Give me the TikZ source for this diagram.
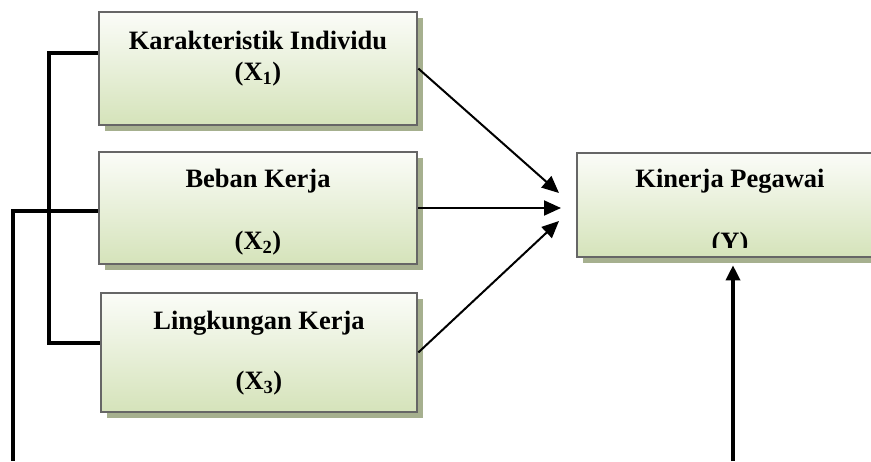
\documentclass[tikz,border=0pt]{standalone}
\usepackage{fontspec}
\setmainfont{Liberation Serif}
\usetikzlibrary{arrows.meta,shadows,calc}

\definecolor{hijau}{HTML}{D5E3BA}
\definecolor{bayang}{HTML}{A6B08F}
\definecolor{garis}{HTML}{666666}

\begin{document}
\begin{tikzpicture}[x=1pt,y=-1pt,
	kotak/.style={draw=garis, line width=2.6pt, top color=white!90!hijau, bottom color=hijau,
		drop shadow={shadow xshift=5.5pt, shadow yshift=-6pt, fill=bayang, opacity=1}},
	judul/.style={font=\fontsize{26.5}{30}\selectfont\bfseries, inner sep=0pt},
	hubung/.style={line width=3.4pt},
	panah/.style={line width=2pt, -{Triangle[length=17pt,width=15pt]}},
	panahtebal/.style={line width=3.4pt, -{Triangle[length=15pt,width=14pt]}}]
	\useasboundingbox (0,0) rectangle (871,461);

	\node[kotak, minimum width=318pt, minimum height=113pt] (x1) at (258,68.5) {};
	\node[kotak, minimum width=318pt, minimum height=112pt] (x2) at (258,208) {};
	\node[kotak, minimum width=316pt, minimum height=119pt] (x3) at (259,352.5) {};
	\node[kotak, minimum width=312pt, minimum height=104pt] (y) at (733,205) {};

	\node[judul] (t1) at (258,40) {Karakteristik Individu};
	\node[judul] (s1) at (258,74) {(X\textsubscript{1})};
	\node[judul] (t2) at (258,181) {Beban Kerja};
	\node[judul] (s2) at (258,243) {(X\textsubscript{2})};
	\node[judul] (t3) at (259,323) {Lingkungan Kerja};
	\node[judul] (s3) at (259,383) {(X\textsubscript{3})};
	\node[judul] (ty) at (730,181) {Kinerja Pegawai};
	\begin{scope}
		\clip (578,150) rectangle (890,247);
		\node[judul] (sy) at (730,244) {(Y)};
	\end{scope}

	% garis penghubung kiri
	\coordinate (a1) at (x1.west |- 0,53);
	\coordinate (a3) at (x3.west |- 0,343);
	\coordinate (a2) at (x2.west |- 0,211);
	\coordinate (bawah1) at (13,461);
	\coordinate (bawah2) at (y.south |- 0,461);
	\draw[hubung] (a1) -| (49,343) -- (a3);
	\draw[hubung] (a2) -| (bawah1);

	% panah ke Y
	\coordinate (u1) at (559,193);
	\coordinate (u2) at (561,208);
	\coordinate (u3) at (559,221);
	\coordinate (uy) at ($(y.south)+(0,7)$);
	\draw[panah] (x1.east) -- (u1);
	\draw[panah] (x2.east) -- (u2);
	\draw[panah] (x3.east) -- (u3);
	\draw[panahtebal] (bawah2) -- (uy);
\end{tikzpicture}
\end{document}
